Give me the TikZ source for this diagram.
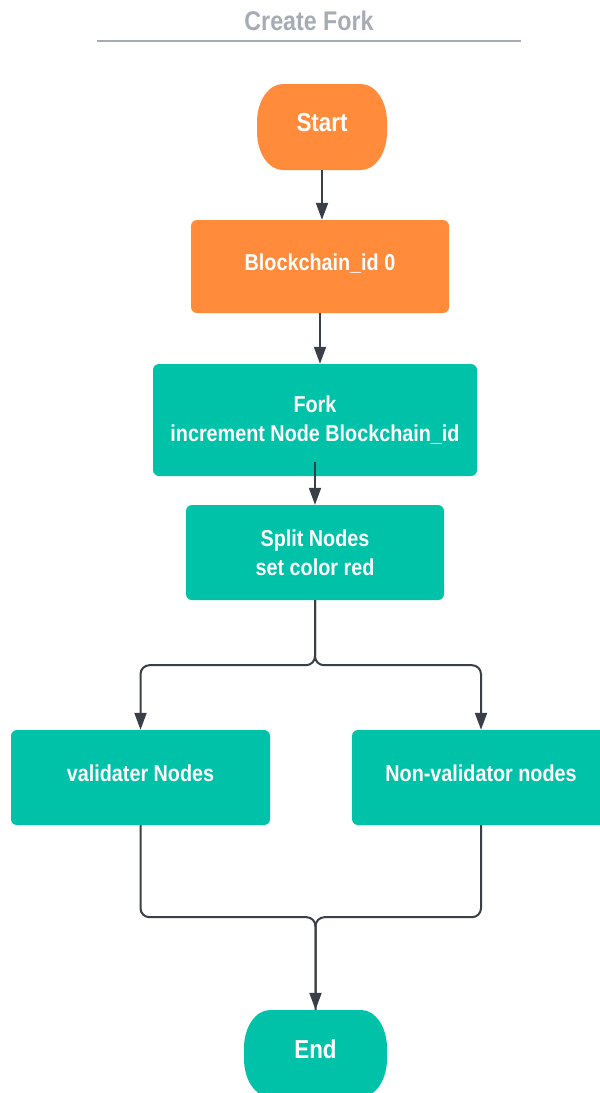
\documentclass[tikz,border=0pt]{standalone}
\usepackage{fontspec}
\newfontfamily\lfont{Liberation Sans}[FakeStretch=0.86]
\usetikzlibrary{arrows.meta,calc}
\definecolor{orng}{HTML}{FF8B3B}
\definecolor{tealfill}{HTML}{00C2A8}
\definecolor{ink}{HTML}{3A3F47}
\definecolor{titlegray}{HTML}{A7ACB4}

\tikzset{
  box/.style={rectangle, rounded corners=6pt, inner sep=0pt, text=white,
    font=\lfont\bfseries\fontsize{23}{29}\selectfont, align=center},
  oneline/.style={text height=17pt, text depth=8.6pt},
  orangebox/.style={box, fill=orng},
  tealbox/.style={box, fill=tealfill},
  term/.style={rectangle, inner sep=0pt, text=white, text height=19pt, text depth=10pt,
    font=\lfont\bfseries\fontsize{26}{30}\selectfont},
  conn/.style={draw=ink, line width=2pt, rounded corners=9pt},
  arr/.style={conn, -{Triangle[length=17pt,width=12pt]}},
}

% terminator outline: rectangle with elliptical corners (x0,y0)-(x1,y1)
\newcommand\termshape[5]{%
  \fill[#5] ({#1+26},#2) -- ({#3-26},#2)
    .. controls ({#3-26+14.4},#2) and (#3,{#2+38-21}) .. (#3,{#2+38})
    -- (#3,{#4-38})
    .. controls (#3,{#4-38+21}) and ({#3-26+14.4},#4) .. ({#3-26},#4)
    -- ({#1+26},#4)
    .. controls ({#1+26-14.4},#4) and (#1,{#4-38+21}) .. (#1,{#4-38})
    -- (#1,{#2+38})
    .. controls (#1,{#2+38-21}) and ({#1+26-14.4},#2) .. cycle;}

\begin{document}
\begin{tikzpicture}[x=1pt,y=-1pt]
  \useasboundingbox (0,0) rectangle (600,1093);
  \clip (0,0) rectangle (600,1093);

  % heading
  \node[anchor=base, text=titlegray, font=\lfont\bfseries\fontsize{27}{30}\selectfont]
    (title) at (309,30) {Create Fork};
  \coordinate (ruleL) at (97,41);
  \coordinate (ruleR) at (521,41);
  \draw[titlegray, line width=2pt] (ruleL) -- (ruleR);

  % terminators
  \termshape{257}{84}{387}{170}{orng}
  \node[term, minimum width=130pt, minimum height=86pt] (start) at (322,127) {Start};
  \termshape{244}{1010}{387}{1097}{tealfill}
  \node[term, minimum width=143pt, minimum height=87pt] (end) at (315.5,1053.5) {End};

  % process steps
  \node[orangebox, oneline, minimum width=258pt, minimum height=93pt] (bc) at (320,266.5)
    {Blockchain\_id 0};
  \node[tealbox, minimum width=324pt, minimum height=112pt] (fork) at (315,420)
    {Fork\\increment Node Blockchain\_id};
  \node[tealbox, minimum width=258pt, minimum height=95pt] (split) at (315,552.5)
    {Split Nodes\\set color red};
  \node[tealbox, oneline, minimum width=259pt, minimum height=95pt] (vnodes) at (140.5,777.5)
    {validater Nodes};
  \node[tealbox, oneline, minimum width=258pt, minimum height=95pt] (nvnodes) at (481,777.5)
    {Non-validator nodes};

  % connectors
  \draw[arr] (start.south) -- (start.south |- bc.north);
  \draw[arr] (bc.south) -- (bc.south |- fork.north);
  \draw[arr] ([yshift=14pt]fork.south) -- (split.north);
  \draw[arr] (split.south) -- ++(0,65) -| (vnodes.north);
  \draw[arr] (split.south) -- ++(0,65) -| (nvnodes.north);
  \draw[conn] (nvnodes.south) -- ++(0,92) -| (end.north);
  \draw[arr] (vnodes.south) -- ++(0,92) -| (end.north);
\end{tikzpicture}
\end{document}
